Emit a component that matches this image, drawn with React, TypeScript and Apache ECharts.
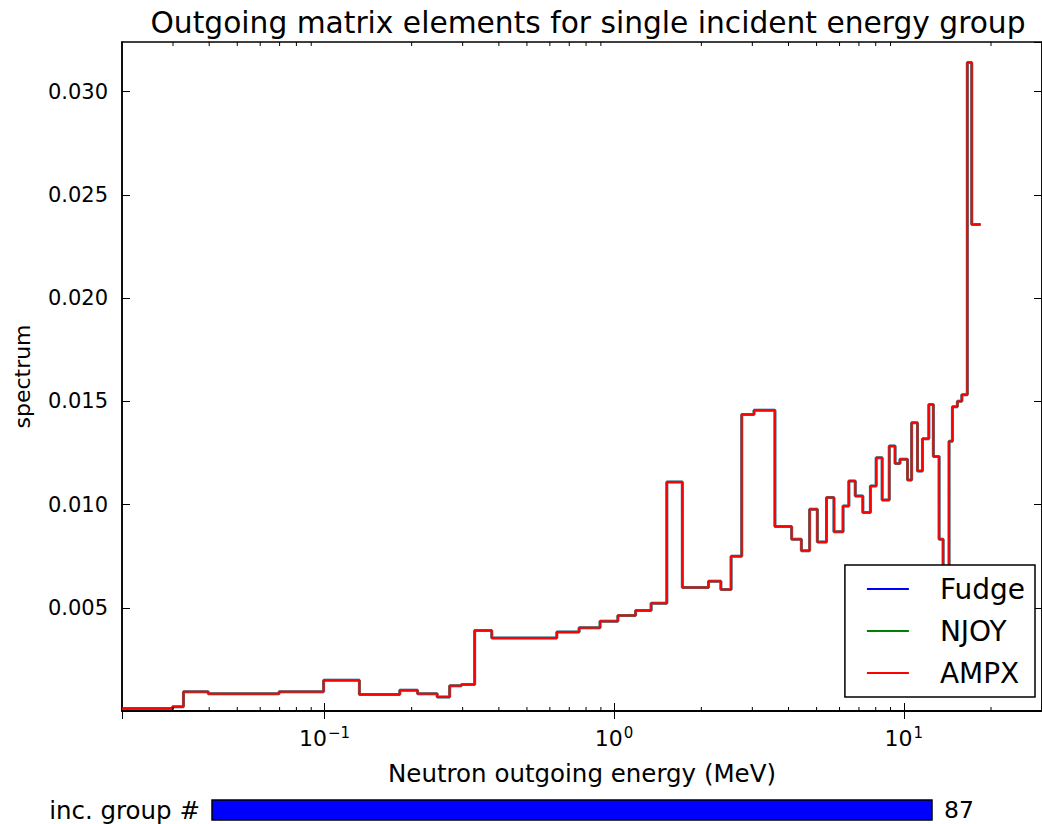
import React, { useEffect, useRef } from "react";
import * as echarts from "echarts";

// Group boundaries (MeV) and per-group spectrum values
const binEdges = [0.02, 0.0299, 0.0326, 0.0397, 0.0697, 0.0993, 0.132, 0.182, 0.2096, 0.245, 0.2705, 0.297, 0.33, 0.378, 0.634, 0.757, 0.894, 1.03, 1.186, 1.342, 1.52, 1.72, 2.117, 2.336, 2.534, 2.757, 3.04, 3.59, 4.1, 4.43, 4.73, 5.03, 5.41, 5.74, 6.17, 6.46, 6.8, 7.22, 7.67, 8.03, 8.42, 8.91, 9.33, 9.7, 10.3, 10.64, 11.15, 11.6, 12.2, 12.65, 13.24, 13.67, 14.33, 14.72, 15.31, 15.86, 16.57, 17.16, 18.42];
const ampxValues = [0.00012, 0.0002, 0.00093, 0.00084, 0.00093, 0.00149, 0.0008, 0.001, 0.00084, 0.00068, 0.00122, 0.00128, 0.0039, 0.00353, 0.00382, 0.00403, 0.00435, 0.00462, 0.00487, 0.00522, 0.01109, 0.00598, 0.00628, 0.00588, 0.00749, 0.01436, 0.01457, 0.00894, 0.00832, 0.00776, 0.00977, 0.00819, 0.01034, 0.00868, 0.00993, 0.01114, 0.01041, 0.00961, 0.0109, 0.01227, 0.01022, 0.01283, 0.01199, 0.01219, 0.01119, 0.01396, 0.01162, 0.01318, 0.01484, 0.01232, 0.00832, 0.0045, 0.01307, 0.01473, 0.015, 0.01532, 0.03141, 0.02356];
const fudgeValues = ampxValues.slice();
const njoyValues = ampxValues.slice();

const seriesNames = ["Fudge", "NJOY", "AMPX"];
const seriesColors = ["#0000ff", "#008000", "#ff0000"];

const X_MIN = 0.02;
const X_MAX = 30;
const Y_MIN = 0;
const Y_MAX = 0.0324;
const Y_INTERVAL = 0.005;

const minorTickValues = [0.03, 0.04, 0.05, 0.06, 0.07, 0.08, 0.09, 0.2, 0.3, 0.4, 0.5, 0.6, 0.7, 0.8, 0.9, 2, 3, 4, 5, 6, 7, 8, 9, 20];

const incGroup = 87;

const FONT = "DejaVu Sans";

function stepData(values: number[]) {
  const pts: number[][] = values.map((v, i) => [binEdges[i], v]);
  pts.push([binEdges[values.length], values[values.length - 1]]);
  return pts;
}

function logLabel(value: number) {
  const lg = Math.log10(value);
  const e = Math.round(lg);
  if (Math.abs(lg - e) > 1e-6) return "";
  const es = e < 0 ? "\u2212" + Math.abs(e) : String(e);
  return "{b|10}{s|" + es + "}";
}

export default function App() {
  const ref = useRef<HTMLDivElement>(null);
  useEffect(() => {
    if (!ref.current) return;
    const chart = echarts.init(ref.current, null, { renderer: "svg" });
    const valuesList = [fudgeValues, njoyValues, ampxValues];
    const widths = [3, 3, 2];
    const opac = [0.55, 0.55, 1];
    const lineSeries = seriesNames.map((name, i) => ({
      name,
      type: "line",
      step: "end",
      symbol: "none",
      data: stepData(valuesList[i]),
      lineStyle: { color: seriesColors[i], width: widths[i], opacity: opac[i] },
      itemStyle: { color: seriesColors[i] },
      z: 2,
    }));
    const axisLineStyle = { color: "#000", width: 1.5 };
    chart.setOption({
      animation: false,
      backgroundColor: "#fff",
      grid: { left: 122, top: 42, width: 921, height: 669, show: true, borderColor: "#000", borderWidth: 1.5, backgroundColor: "transparent" },
      legend: {
        data: seriesNames,
        orient: "vertical",
        right: 7,
        top: 565,
        z: 10,
        icon: "rect",
        itemWidth: 42,
        itemHeight: 2,
        itemGap: 14,
        padding: [10, 10, 10, 22],
        backgroundColor: "#fff",
        borderColor: "#000",
        borderWidth: 1.5,
        borderRadius: 0,
        itemStyle: { opacity: 1 },
        textStyle: { fontFamily: FONT, fontSize: 28, color: "#000", lineHeight: 28, padding: [0, 0, 0, 26] },
      },
      xAxis: [
        {
          type: "log",
          logBase: 10,
          min: X_MIN,
          max: X_MAX,
          position: "bottom",
          name: "Neutron outgoing energy (MeV)",
          nameLocation: "middle",
          nameGap: 50,
          nameTextStyle: { fontFamily: FONT, fontSize: 24.5, color: "#000" },
          axisLine: { show: true, lineStyle: axisLineStyle },
          axisTick: { show: true, inside: true, length: 8, lineStyle: { color: "#000", width: 1 } },
          splitLine: { show: false },
          minorTick: { show: false },
          axisLabel: {
            show: true,
            margin: 14,
            showMinLabel: false,
            showMaxLabel: false,
            formatter: logLabel,
            rich: {
              b: { fontFamily: FONT, fontSize: 22, color: "#000" },
              s: { fontFamily: FONT, fontSize: 15, color: "#000", padding: [0, 0, 12, 1] },
            },
          },
        },
        {
          type: "log",
          logBase: 10,
          min: X_MIN,
          max: X_MAX,
          position: "top",
          axisLine: { show: true, lineStyle: axisLineStyle },
          axisTick: { show: true, inside: true, length: 8, lineStyle: { color: "#000", width: 1 } },
          axisLabel: { show: false },
          splitLine: { show: false },
        },
      ],
      yAxis: [
        {
          type: "value",
          min: Y_MIN,
          max: Y_MAX,
          interval: Y_INTERVAL,
          position: "left",
          name: "spectrum",
          nameLocation: "middle",
          nameGap: 89,
          nameTextStyle: { fontFamily: FONT, fontSize: 22, color: "#000" },
          axisLine: { show: true, lineStyle: axisLineStyle },
          axisTick: { show: true, inside: true, length: 8, lineStyle: { color: "#000", width: 1 } },
          splitLine: { show: false },
          axisLabel: {
            margin: 14,
            showMaxLabel: false,
            fontFamily: FONT,
            fontSize: 21,
            color: "#000",
            formatter: (v: number) => (v === 0 ? "" : v.toFixed(3)),
          },
        },
        {
          type: "value",
          min: Y_MIN,
          max: Y_MAX,
          interval: Y_INTERVAL,
          position: "right",
          axisLine: { show: true, lineStyle: axisLineStyle },
          axisTick: { show: true, inside: true, length: 8, lineStyle: { color: "#000", width: 1 } },
          axisLabel: { show: false },
          splitLine: { show: false },
        },
      ],
      series: [
        ...lineSeries,
        {
          type: "custom",
          name: "minorTicks",
          coordinateSystem: "cartesian2d",
          xAxisIndex: 0,
          yAxisIndex: 0,
          silent: true,
          clip: false,
          z: 6,
          data: minorTickValues.map((v) => [v, Y_MIN]),
          renderItem: (params: any, api: any) => {
            const v = api.value(0);
            const b = api.coord([v, Y_MIN]);
            const t = api.coord([v, Y_MAX]);
            return {
              type: "group",
              children: [
                { type: "line", shape: { x1: b[0], y1: b[1], x2: b[0], y2: b[1] - 4 }, style: { stroke: "#000", lineWidth: 1 } },
                { type: "line", shape: { x1: t[0], y1: t[1], x2: t[0], y2: t[1] + 4 }, style: { stroke: "#000", lineWidth: 1 } },
              ],
            };
          },
        },
      ],
      graphic: [
        {
          type: "text",
          x: 588,
          y: 22,
          style: {
            text: "Outgoing matrix elements for single incident energy group",
            fontFamily: FONT,
            fontSize: 29.7,
            fill: "#000",
            textAlign: "center",
            textVerticalAlign: "middle",
          },
        },
        {
          type: "text",
          x: 200,
          y: 810,
          style: { text: "inc. group #", fontFamily: FONT, fontSize: 24.5, fill: "#000", textAlign: "right", textVerticalAlign: "middle" },
        },
        {
          type: "rect",
          x: 212,
          y: 800,
          shape: { x: 0, y: 0, width: 720, height: 20 },
          style: { fill: "#0000ff", stroke: "#000", lineWidth: 1.5 },
        },
        {
          type: "text",
          x: 944,
          y: 810,
          style: { text: String(incGroup), fontFamily: FONT, fontSize: 23.5, fill: "#000", textAlign: "left", textVerticalAlign: "middle" },
        },
      ],
    });
    return () => chart.dispose();
  }, []);
  return <div ref={ref} style={{ position: "fixed", left: 0, top: 0, width: 1042, height: 824, background: "#fff" }} />;
}
